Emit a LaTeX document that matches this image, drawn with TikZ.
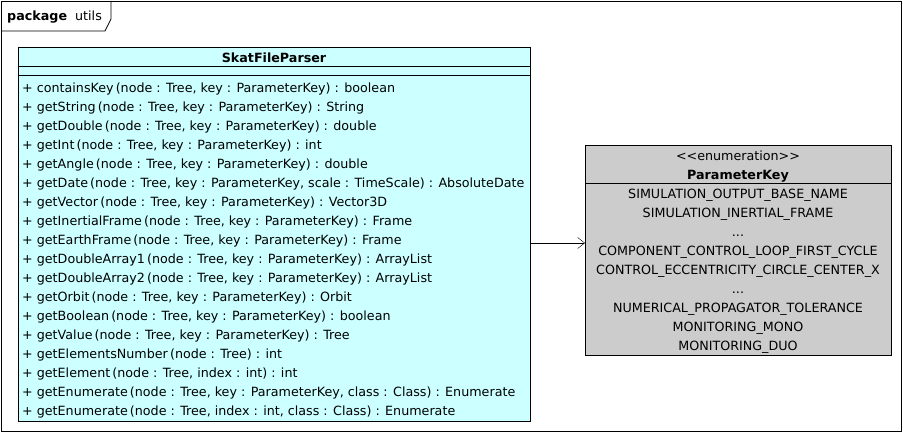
\documentclass[tikz,border=0pt]{standalone}
\usepackage{fontspec}
\setmainfont{DejaVu Sans}
\usetikzlibrary{arrows.meta}
\definecolor{classfill}{HTML}{CCFFFF}
\definecolor{enumfill}{HTML}{CCCCCC}
\tikzset{
	umlbox/.style={draw, thick, anchor=north west, inner sep=0pt},
	member/.style={anchor=base west, inner sep=0pt, font=\fontsize{12.7}{14}\selectfont},
	centred/.style={anchor=base, inner sep=0pt, font=\fontsize{12.7}{14}\selectfont},
	uses/.style={-{Straight Barb[length=7pt,width=11pt]}, thin}
}
\begin{document}
\begin{tikzpicture}[x=1pt,y=-1pt]
\useasboundingbox (0,0) rectangle (903,433);
% package frame
				\draw [thick] (1,1) rectangle (901,431);
				\draw [thick] (1,31) -- (105,31) -- (111,19) -- (111,1);
				\node[member] (pkg) at (7,20.5) {\textbf{package}\ \ utils};
% class SkatFileParser
				\node[umlbox, fill=classfill, minimum width=512pt, minimum height=374pt] (parser) at (18,47) {};
				\draw [thick] (18,66) -- (530,66);
				\draw [thick] (18,75) -- (530,75);
				\node[centred] (parsername) at (274,62.5) {\textbf{SkatFileParser}};
				\foreach \m [count=\i from 0] in {
					{+ containsKey\,(node : Tree, key : ParameterKey) : boolean},
					{+ getString\,(node : Tree, key : ParameterKey) : String},
					{+ getDouble\,(node : Tree, key : ParameterKey) : double},
					{+ getInt\,(node : Tree, key : ParameterKey) : int},
					{+ getAngle\,(node : Tree, key : ParameterKey) : double},
					{+ getDate\,(node : Tree, key : ParameterKey, scale : TimeScale) : AbsoluteDate},
					{+ getVector\,(node : Tree, key : ParameterKey) : Vector3D},
					{+ getInertialFrame\,(node : Tree, key : ParameterKey) : Frame},
					{+ getEarthFrame\,(node : Tree, key : ParameterKey) : Frame},
					{+ getDoubleArray1\,(node : Tree, key : ParameterKey) : ArrayList},
					{+ getDoubleArray2\,(node : Tree, key : ParameterKey) : ArrayList},
					{+ getOrbit\,(node : Tree, key : ParameterKey) : Orbit},
					{+ getBoolean\,(node : Tree, key : ParameterKey) : boolean},
					{+ getValue\,(node : Tree, key : ParameterKey) : Tree},
					{+ getElementsNumber\,(node : Tree) : int},
					{+ getElement\,(node : Tree, index : int) : int},
					{+ getEnumerate\,(node : Tree, key : ParameterKey, class : Class) : Enumerate},
					{+ getEnumerate\,(node : Tree, index : int, class : Class) : Enumerate}}
				\node[member] (op\i) at (22,92.5+19*\i) {\m};
% enumeration ParameterKey
				\node[umlbox, fill=enumfill, minimum width=306pt, minimum height=210pt] (paramkey) at (585,145) {};
				\node[centred] (stereo) at (738,160.5) {{<}{<}enumeration{>}{>}};
				\node[centred] (keyname) at (738,179.5) {\textbf{ParameterKey}};
				\draw [thick] (585,183) -- (891,183);
				\foreach \v [count=\i from 0] in {
					{SIMULATION\_OUTPUT\_BASE\_NAME},
					{SIMULATION\_INERTIAL\_FRAME},
					{.{}.{}.},
					{COMPONENT\_CONTROL\_LOOP\_FIRST\_CYCLE},
					{CONTROL\_ECCENTRICITY\_CIRCLE\_CENTER\_X},
					{.{}.{}.},
					{NUMERICAL\_PROPAGATOR\_TOLERANCE},
					{MONITORING\_MONO},
					{MONITORING\_DUO}}
				\node[centred] (lit\i) at (738,198.5+19*\i) {\v};
% dependency
				\coordinate (depy) at (0,243);
				\draw [uses] (parser.east |- depy) -- (paramkey.west |- depy);
\end{tikzpicture}
\end{document}
